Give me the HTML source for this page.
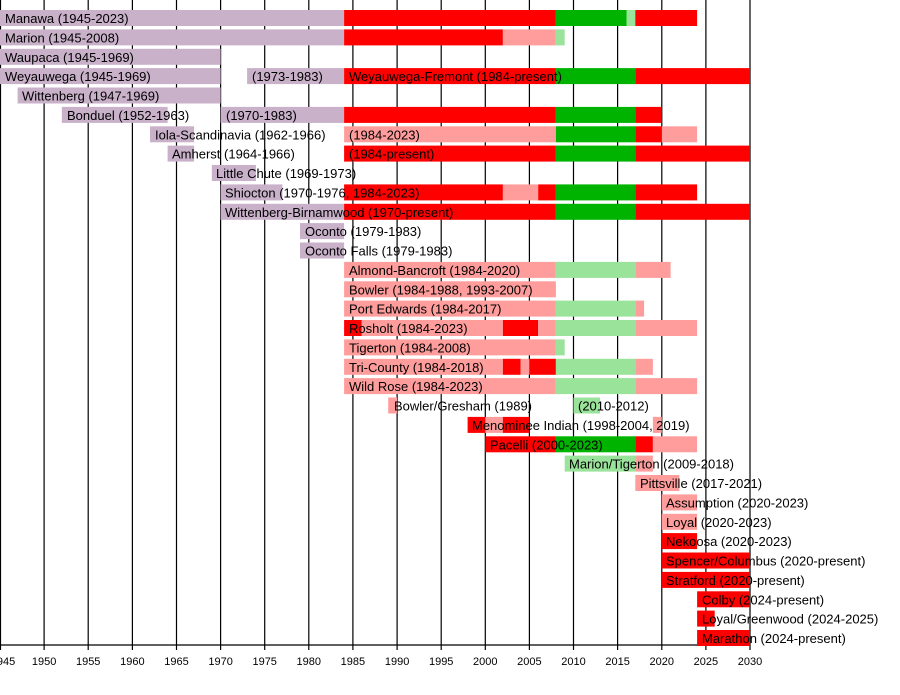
<!DOCTYPE html>
<html><head><meta charset="utf-8"><style>
html,body{margin:0;padding:0;background:#fff}
svg{display:block}
text{font-family:"Liberation Sans","DejaVu Sans",sans-serif;font-size:13px;fill:#000}
.L{fill:#c9b1ca}.R{fill:#ff0000}.P{fill:#ff9d9d}.G{fill:#00b300}.Q{fill:#9ae39a}
.t{font-size:11px;text-anchor:middle}
</style></head><body>
<svg width="900" height="695" viewBox="0 0 900 695" xmlns="http://www.w3.org/2000/svg">
<g stroke="#000" stroke-width="1.2">
<line x1="0.5" y1="0" x2="0.5" y2="650"/><line x1="44.1" y1="0" x2="44.1" y2="650"/><line x1="88.2" y1="0" x2="88.2" y2="650"/><line x1="132.4" y1="0" x2="132.4" y2="650"/><line x1="176.5" y1="0" x2="176.5" y2="650"/><line x1="220.6" y1="0" x2="220.6" y2="650"/><line x1="264.7" y1="0" x2="264.7" y2="650"/><line x1="308.8" y1="0" x2="308.8" y2="650"/><line x1="352.9" y1="0" x2="352.9" y2="650"/><line x1="397.1" y1="0" x2="397.1" y2="650"/><line x1="441.2" y1="0" x2="441.2" y2="650"/><line x1="485.3" y1="0" x2="485.3" y2="650"/><line x1="529.4" y1="0" x2="529.4" y2="650"/><line x1="573.5" y1="0" x2="573.5" y2="650"/><line x1="617.6" y1="0" x2="617.6" y2="650"/><line x1="661.8" y1="0" x2="661.8" y2="650"/><line x1="705.9" y1="0" x2="705.9" y2="650"/><line x1="750" y1="0" x2="750" y2="650"/>
<line x1="0" y1="645" x2="750" y2="645"/>
</g>
<g class="t">
<text class="t" x="3" y="665">1945</text><text class="t" x="44.1" y="665">1950</text><text class="t" x="88.2" y="665">1955</text><text class="t" x="132.4" y="665">1960</text><text class="t" x="176.5" y="665">1965</text><text class="t" x="220.6" y="665">1970</text><text class="t" x="264.7" y="665">1975</text><text class="t" x="308.8" y="665">1980</text><text class="t" x="352.9" y="665">1985</text><text class="t" x="397.1" y="665">1990</text><text class="t" x="441.2" y="665">1995</text><text class="t" x="485.3" y="665">2000</text><text class="t" x="529.4" y="665">2005</text><text class="t" x="573.5" y="665">2010</text><text class="t" x="617.6" y="665">2015</text><text class="t" x="661.8" y="665">2020</text><text class="t" x="705.9" y="665">2025</text><text class="t" x="750" y="665">2030</text>
</g>

<g transform="translate(0,10)"><rect class="L" x="0" width="344.1" height="16"/><rect class="R" x="344.1" width="211.8" height="16"/><rect class="G" x="555.9" width="70.6" height="16"/><rect class="Q" x="626.5" width="8.8" height="16"/><rect class="R" x="635.3" width="61.8" height="16"/><text x="5" y="13">Manawa (1945-2023)</text></g>
<g transform="translate(0,29.4)"><rect class="L" x="0" width="344.1" height="16"/><rect class="R" x="344.1" width="158.8" height="16"/><rect class="P" x="502.9" width="53" height="16"/><rect class="Q" x="555.9" width="8.8" height="16"/><text x="5" y="13">Marion (1945-2008)</text></g>
<g transform="translate(0,48.8)"><rect class="L" x="0" width="220.6" height="16"/><text x="5" y="13">Waupaca (1945-1969)</text></g>
<g transform="translate(0,68.1)"><rect class="L" x="0" width="220.6" height="16"/><rect class="L" x="247.1" width="97" height="16"/><rect class="R" x="344.1" width="211.8" height="16"/><rect class="G" x="555.9" width="79.4" height="16"/><rect class="R" x="635.3" width="114.7" height="16"/><text x="5" y="13">Weyauwega (1945-1969)</text><text x="252" y="13">(1973-1983)</text><text x="349" y="13">Weyauwega-Fremont (1984-present)</text></g>
<g transform="translate(0,87.5)"><rect class="L" x="17.6" width="203" height="16"/><text x="22" y="13">Wittenberg (1947-1969)</text></g>
<g transform="translate(0,106.9)"><rect class="L" x="61.8" width="105.8" height="16"/><rect class="L" x="220.6" width="123.5" height="16"/><rect class="R" x="344.1" width="211.8" height="16"/><rect class="G" x="555.9" width="79.4" height="16"/><rect class="R" x="635.3" width="26.5" height="16"/><text x="67" y="13">Bonduel (1952-1963)</text><text x="226" y="13">(1970-1983)</text></g>
<g transform="translate(0,126.3)"><rect class="L" x="150" width="44.1" height="16"/><rect class="P" x="344.1" width="211.8" height="16"/><rect class="G" x="555.9" width="79.4" height="16"/><rect class="R" x="635.3" width="26.5" height="16"/><rect class="P" x="661.8" width="35.3" height="16"/><text x="155" y="13">Iola-Scandinavia (1962-1966)</text><text x="349" y="13">(1984-2023)</text></g>
<g transform="translate(0,145.6)"><rect class="L" x="167.6" width="26.5" height="16"/><rect class="R" x="344.1" width="211.8" height="16"/><rect class="G" x="555.9" width="79.4" height="16"/><rect class="R" x="635.3" width="114.7" height="16"/><text x="172" y="13">Amherst (1964-1966)</text><text x="349" y="13">(1984-present)</text></g>
<g transform="translate(0,165)"><rect class="L" x="211.8" width="44.1" height="16"/><text x="216" y="13">Little Chute (1969-1973)</text></g>
<g transform="translate(0,184.4)"><rect class="L" x="220.6" width="61.8" height="16"/><rect class="R" x="344.1" width="158.8" height="16"/><rect class="P" x="502.9" width="35.3" height="16"/><rect class="R" x="538.2" width="17.7" height="16"/><rect class="G" x="555.9" width="79.4" height="16"/><rect class="R" x="635.3" width="61.8" height="16"/><text x="225" y="13">Shiocton (1970-1976, 1984-2023)</text></g>
<g transform="translate(0,203.8)"><rect class="L" x="220.6" width="123.5" height="16"/><rect class="R" x="344.1" width="211.8" height="16"/><rect class="G" x="555.9" width="79.4" height="16"/><rect class="R" x="635.3" width="114.7" height="16"/><text x="225" y="13">Wittenberg-Birnamwood (1970-present)</text></g>
<g transform="translate(0,223.1)"><rect class="L" x="300" width="44.1" height="16"/><text x="305" y="13">Oconto (1979-1983)</text></g>
<g transform="translate(0,242.5)"><rect class="L" x="300" width="44.1" height="16"/><text x="305" y="13">Oconto Falls (1979-1983)</text></g>
<g transform="translate(0,261.9)"><rect class="P" x="344.1" width="211.8" height="16"/><rect class="Q" x="555.9" width="79.4" height="16"/><rect class="P" x="635.3" width="35.3" height="16"/><text x="349" y="13">Almond-Bancroft (1984-2020)</text></g>
<g transform="translate(0,281.3)"><rect class="P" x="344.1" width="211.8" height="16"/><text x="349" y="13">Bowler (1984-1988, 1993-2007)</text></g>
<g transform="translate(0,300.6)"><rect class="P" x="344.1" width="211.8" height="16"/><rect class="Q" x="555.9" width="79.4" height="16"/><rect class="P" x="635.3" width="8.8" height="16"/><text x="349" y="13">Port Edwards (1984-2017)</text></g>
<g transform="translate(0,320)"><rect class="R" x="344.1" width="17.7" height="16"/><rect class="P" x="361.8" width="141.1" height="16"/><rect class="R" x="502.9" width="35.3" height="16"/><rect class="P" x="538.2" width="17.7" height="16"/><rect class="Q" x="555.9" width="79.4" height="16"/><rect class="P" x="635.3" width="61.8" height="16"/><text x="349" y="13">Rosholt (1984-2023)</text></g>
<g transform="translate(0,339.4)"><rect class="P" x="344.1" width="211.8" height="16"/><rect class="Q" x="555.9" width="8.8" height="16"/><text x="349" y="13">Tigerton (1984-2008)</text></g>
<g transform="translate(0,358.8)"><rect class="P" x="344.1" width="158.8" height="16"/><rect class="R" x="502.9" width="17.7" height="16"/><rect class="P" x="520.6" width="8.8" height="16"/><rect class="R" x="529.4" width="26.5" height="16"/><rect class="Q" x="555.9" width="79.4" height="16"/><rect class="P" x="635.3" width="17.6" height="16"/><text x="349" y="13">Tri-County (1984-2018)</text></g>
<g transform="translate(0,378.1)"><rect class="P" x="344.1" width="211.8" height="16"/><rect class="Q" x="555.9" width="79.4" height="16"/><rect class="P" x="635.3" width="61.8" height="16"/><text x="349" y="13">Wild Rose (1984-2023)</text></g>
<g transform="translate(0,397.5)"><rect class="P" x="388.2" width="8.9" height="16"/><rect class="Q" x="573.5" width="26.5" height="16"/><text x="394" y="13">Bowler/Gresham (1989)</text><text x="578" y="13">(2010-2012)</text></g>
<g transform="translate(0,416.9)"><rect class="R" x="467.6" width="17.7" height="16"/><rect class="P" x="485.3" width="17.6" height="16"/><rect class="R" x="502.9" width="26.5" height="16"/><rect class="P" x="652.9" width="8.9" height="16"/><text x="472" y="13">Menominee Indian (1998-2004, 2019)</text></g>
<g transform="translate(0,436.3)"><rect class="R" x="485.3" width="70.6" height="16"/><rect class="G" x="555.9" width="79.4" height="16"/><rect class="R" x="635.3" width="17.6" height="16"/><rect class="P" x="652.9" width="44.2" height="16"/><text x="490" y="13">Pacelli (2000-2023)</text></g>
<g transform="translate(0,455.6)"><rect class="Q" x="564.7" width="70.6" height="16"/><rect class="P" x="635.3" width="17.6" height="16"/><text x="569" y="13">Marion/Tigerton (2009-2018)</text></g>
<g transform="translate(0,475)"><rect class="P" x="635.3" width="44.1" height="16"/><text x="640" y="13">Pittsville (2017-2021)</text></g>
<g transform="translate(0,494.4)"><rect class="P" x="661.8" width="35.3" height="16"/><text x="666" y="13">Assumption (2020-2023)</text></g>
<g transform="translate(0,513.8)"><rect class="P" x="661.8" width="35.3" height="16"/><text x="666" y="13">Loyal (2020-2023)</text></g>
<g transform="translate(0,533.1)"><rect class="R" x="661.8" width="35.3" height="16"/><text x="666" y="13">Nekoosa (2020-2023)</text></g>
<g transform="translate(0,552.5)"><rect class="R" x="661.8" width="88.2" height="16"/><text x="666" y="13">Spencer/Columbus  (2020-present)</text></g>
<g transform="translate(0,571.9)"><rect class="R" x="661.8" width="88.2" height="16"/><text x="666" y="13">Stratford (2020-present)</text></g>
<g transform="translate(0,591.3)"><rect class="R" x="697.1" width="52.9" height="16"/><text x="702" y="13">Colby (2024-present)</text></g>
<g transform="translate(0,610.6)"><rect class="R" x="697.1" width="17.6" height="16"/><text x="702" y="13">Loyal/Greenwood (2024-2025)</text></g>
<g transform="translate(0,630)"><rect class="R" x="697.1" width="52.9" height="16"/><text x="702" y="13">Marathon (2024-present)</text></g>
</svg>
</body></html>
